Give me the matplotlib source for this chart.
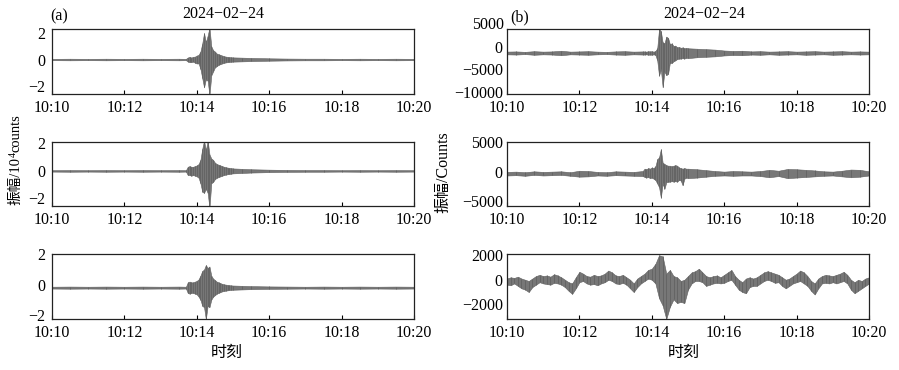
import matplotlib
matplotlib.use("Agg")
import matplotlib.pyplot as plt
from matplotlib.transforms import blended_transform_factory

# time axis in minutes after 10:10
X_TICKS = [0, 2, 4, 6, 8, 10]
X_LABELS = ["10:10", "10:12", "10:14", "10:16", "10:18", "10:20"]
DATE = "2024\u221202\u221224"

# left column: envelope (upper / lower) of each trace, in 10^4 counts
T_LEFT = [0, 0.5, 1.0, 1.5, 2.0, 2.5, 3.0, 3.5, 3.7,
          3.75, 3.8, 3.85, 3.9, 3.95, 4.0, 4.05, 4.1, 4.15, 4.2, 4.25, 4.3, 4.35,
          4.4, 4.45, 4.5, 4.55, 4.6, 4.65, 4.7, 4.75, 4.8, 4.85, 4.9, 4.95, 5.0,
          5.25, 5.5, 6.0, 6.5, 7.0, 7.5, 8.0, 8.5, 9.0, 9.5, 10.0]

a1_hi = [0.05, 0.06, 0.05, 0.06, 0.05, 0.06, 0.05, 0.06, 0.05,
         0.15, 0.2, 0.15, 0.2, 0.22, 0.3, 0.35, 0.6, 1.2, 2.0, 1.3, 1.8, 2.4,
         1.0, 0.7, 0.6, 0.45, 0.4, 0.35, 0.3, 0.25, 0.22, 0.2, 0.18, 0.17, 0.16,
         0.14, 0.12, 0.09, 0.07, 0.06, 0.06, 0.05, 0.06, 0.05, 0.06, 0.05]
a1_lo = [-0.05, -0.06, -0.05, -0.06, -0.05, -0.06, -0.05, -0.06, -0.05,
         -0.15, -0.2, -0.2, -0.15, -0.25, -0.3, -0.3, -0.7, -1.4, -2.1, -1.5, -1.6, -2.7,
         -1.2, -0.9, -0.6, -0.5, -0.4, -0.35, -0.3, -0.25, -0.22, -0.2, -0.18, -0.17, -0.16,
         -0.14, -0.12, -0.09, -0.07, -0.06, -0.06, -0.05, -0.06, -0.05, -0.06, -0.05]

a2_hi = [0.05, 0.06, 0.05, 0.06, 0.05, 0.06, 0.05, 0.06, 0.05,
         0.3, 0.35, 0.3, 0.3, 0.35, 0.4, 0.5, 0.8, 1.6, 2.2, 1.5, 2.2, 1.2,
         0.9, 0.8, 0.6, 0.5, 0.45, 0.4, 0.35, 0.3, 0.27, 0.24, 0.22, 0.2, 0.18,
         0.15, 0.12, 0.09, 0.07, 0.06, 0.06, 0.05, 0.06, 0.05, 0.06, 0.05]
a2_lo = [-0.05, -0.06, -0.05, -0.06, -0.05, -0.06, -0.05, -0.06, -0.05,
         -0.3, -0.3, -0.35, -0.3, -0.35, -0.4, -0.5, -0.9, -1.5, -1.6, -1.3, -1.6, -2.7,
         -0.9, -0.8, -0.6, -0.5, -0.45, -0.4, -0.35, -0.3, -0.27, -0.24, -0.22, -0.2, -0.18,
         -0.15, -0.12, -0.09, -0.07, -0.06, -0.06, -0.05, -0.06, -0.05, -0.06, -0.05]

a3_hi = [-0.14, -0.13, -0.14, -0.13, -0.14, -0.13, -0.14, -0.13, -0.14,
         0.15, 0.2, 0.15, 0.15, 0.2, 0.25, 0.35, 0.6, 0.9, 1.0, 1.3, 1.1, 1.2,
         0.6, 0.4, 0.3, 0.2, 0.15, 0.1, 0.05, 0.02, 0.0, -0.02, -0.04, -0.05, -0.06,
         -0.08, -0.1, -0.12, -0.13, -0.14, -0.13, -0.14, -0.13, -0.14, -0.13, -0.14]
a3_lo = [-0.26, -0.27, -0.26, -0.27, -0.26, -0.27, -0.26, -0.27, -0.26,
         -0.55, -0.6, -0.55, -0.55, -0.6, -0.65, -0.8, -1.0, -1.4, -1.5, -2.3, -1.4, -1.5,
         -1.0, -0.8, -0.7, -0.6, -0.55, -0.5, -0.45, -0.42, -0.4, -0.38, -0.36, -0.35, -0.34,
         -0.32, -0.3, -0.28, -0.27, -0.26, -0.27, -0.26, -0.27, -0.26, -0.27, -0.26]

# right column, counts
T_RIGHT = [0, 0.25, 0.5, 0.75, 1.0, 1.25, 1.5, 1.75, 2.0, 2.25, 2.5, 2.75, 3.0, 3.25, 3.5, 3.75,
           3.8, 3.85, 3.9, 3.95, 4.0, 4.05, 4.1, 4.15, 4.2, 4.25, 4.3, 4.35, 4.4, 4.45,
           4.5, 4.55, 4.6, 4.65, 4.7, 4.75, 4.8, 4.85, 4.9, 4.95, 5.0,
           5.25, 5.5, 5.75, 6.0, 6.25, 6.5, 6.75, 7.0, 7.25, 7.5, 7.75, 8.0, 8.25, 8.5,
           8.75, 9.0, 9.25, 9.5, 9.75, 10.0]

b1_hi = [-1050, -1000, -1100, -950, -1050, -1000, -850, -1050, -1000, -950, -1050, -1100, -1000, -950, -1050, -1000,
         -1000, -1050, -950, -1000, -950, -1050, -900, -300, 4000, 3500, 1000, 800, 2300, 2000,
         600, 800, 200, 300, -100, 0, -200, -100, -300, -200, -300,
         -400, -500, -600, -800, -900, -850, -1000, -950, -1050, -1000, -950, -1050, -1000, -950,
         -1050, -1000, -950, -1050, -1000, -1050]
b1_lo = [-1650, -1700, -1600, -1750, -1650, -1700, -1850, -1650, -1700, -1750, -1650, -1600, -1700, -1750, -1650, -1700,
         -1700, -1650, -1750, -1700, -1750, -1650, -1800, -3000, -6400, -5000, -9000, -5500, -6300, -6000,
         -3500, -3600, -3200, -3000, -2700, -2600, -2600, -2500, -2600, -2400, -2500,
         -2300, -2200, -2100, -1900, -1800, -1850, -1700, -1750, -1650, -1750, -1700, -1650, -1750, -1700,
         -1650, -1750, -1700, -1650, -1700, -1650]

b2_hi = [-50, 0, -100, 50, -50, 0, 50, -100, 150, 100, -50, -100, 50, 0, -50, 100,
         500, 400, 600, 500, 700, 600, 900, 2100, 2400, 3800, 1500, 1300, 1100, 1000,
         1000, 900, 1000, 1100, 1000, 700, 600, 500, 600, 500, 500,
         400, 250, 100, 0, 100, 50, 0, 100, 300, 150, 450, 400, 300, 200,
         50, 0, 150, 350, 300, 50]
b2_lo = [-650, -600, -700, -550, -650, -600, -550, -700, -850, -800, -650, -700, -600, -650, -700, -750,
         -900, -1000, -900, -1100, -1000, -1200, -1400, -2000, -2600, -4400, -2000, -2900, -1800, -1700,
         -1700, -1600, -1700, -1600, -1700, -1400, -1500, -2300, -1200, -1000, -1100,
         -1000, -850, -700, -650, -700, -650, -650, -750, -950, -750, -1100, -1000, -900, -800,
         -700, -650, -800, -950, -850, -650]

T_B3 = [i / 10 for i in range(101)]
b3_hi = [100, 200, 150, 250, 100, 0, -100, 100, 300, 400,
         300, 350, 250, 450, 350, 200, 0, -200, -300, 200,
         650, 500, 300, 250, 400, 300, 350, 500, 750, 600,
         350, 300, 400, 200, 0, -300, 100, 300, 500, 800,
         900, 1300, 2000, 1900, 500, 800, 300, 200, -100, 0,
         300, 600, 700, 900, 600, 300, 200, 300, 350, 200,
         400, 600, 800, 300, 0, -200, 100, 200, 100, 200,
         400, 600, 700, 600, 500, 400, 200, 0, 100, 300,
         500, 750, 600, 300, -100, -300, 100, 300, 400, 350,
         300, 400, 500, 650, 400, 0, -200, 0, -100, 100,
         200]
b3_lo = [-400, -450, -300, -500, -700, -800, -1000, -600, -400, -200,
         -300, -350, -400, -250, -300, -400, -600, -900, -1150, -700,
         -200, -100, -300, -400, -350, -450, -300, -200, 0, -100,
         -300, -350, -250, -400, -700, -1000, -600, -300, -100, 100,
         0, -300, -1500, -2100, -3200, -2200, -1600, -1900, -1800, -1900,
         -800, -300, -100, -100, -200, -500, -400, -300, -250, -300,
         -250, -100, 0, -400, -800, -1000, -1100, -600, -500, -500,
         -300, -100, 0, -100, -250, -200, -500, -700, -500, -300,
         -200, -100, -300, -500, -900, -1200, -700, -300, -250, -300,
         -200, -300, -200, -100, -300, -800, -1100, -900, -700, -500,
         -300]

FILL = "#777777"
TRACE = "#5e5e5e"
FRAME = "#222222"


def draw_panel(rect, t, hi, lo, ylim, yticks, pad):
    ax = fig.add_axes(rect)
    ax.fill_between(t, lo, hi, facecolor=FILL, edgecolor=TRACE, linewidth=0.4)
    ax.vlines(t, lo, hi, color=TRACE, linewidth=0.5)
    ax.set_xlim(0, 10)
    ax.set_ylim(*ylim)
    ax.set_xticks(X_TICKS)
    ax.set_xticklabels(X_LABELS)
    ax.set_yticks(yticks)
    ax.tick_params(axis="x", direction="in", length=3, width=0.8, labelsize=11.5, pad=4)
    ax.tick_params(axis="y", direction="in", length=0, labelsize=11.5, pad=pad)
    for sp in ax.spines.values():
        sp.set_color(FRAME)
        sp.set_linewidth(0.9)
    return ax


fig = plt.figure(figsize=(8.99, 3.70), dpi=100)
plt.rcParams["font.family"] = ["Liberation Serif", "Noto Sans CJK SC", "DejaVu Serif"]

W = 362 / 899
rows = [(1 - 94 / 370, 65 / 370), (1 - 206 / 370, 64 / 370), (1 - 319 / 370, 65 / 370)]
xl, xr = 52 / 899, 507 / 899

draw_panel([xl, rows[0][0], W, rows[0][1]], T_LEFT, a1_hi, a1_lo, (-2.6, 2.3), [-2, 0, 2], 5)
draw_panel([xl, rows[1][0], W, rows[1][1]], T_LEFT, a2_hi, a2_lo, (-2.55, 2.1), [-2, 0, 2], 5)
draw_panel([xl, rows[2][0], W, rows[2][1]], T_LEFT, a3_hi, a3_lo, (-2.28, 2.03), [-2, 0, 2], 5)

ax_b1 = draw_panel([xr, rows[0][0], W, rows[0][1]], T_RIGHT, b1_hi, b1_lo, (-10500, 4000), [-10000, -5000, 0], 3)
tr = blended_transform_factory(ax_b1.transAxes, ax_b1.transData)
ax_b1.text(-0.008, 5000, "5000", transform=tr, ha="right", va="center", fontsize=11.5, clip_on=False)
draw_panel([xr, rows[1][0], W, rows[1][1]], T_RIGHT, b2_hi, b2_lo, (-5800, 4700), [-5000, 0, 5000], 3)
draw_panel([xr, rows[2][0], W, rows[2][1]], T_B3, b3_hi, b3_lo, (-3200, 2100), [-2000, 0, 2000], 3)

fig.text(223 / 899, 1 - 14 / 370, DATE, ha="center", va="center", fontsize=11.5)
fig.text(704 / 899, 1 - 14 / 370, DATE, ha="center", va="center", fontsize=11.5)
fig.text(50 / 899, 1 - 16 / 370, "(a)", ha="left", va="center", fontsize=11.5)
fig.text(510 / 899, 1 - 17 / 370, "(b)", ha="left", va="center", fontsize=11.5)

# left y label with a real superscript, built from three rotated pieces
renderer = fig.canvas.get_renderer()
lx = 16
y_px = 205
t1 = fig.text(lx / 899, 1 - y_px / 370, "振幅/10", rotation=90, ha="center", va="bottom", fontsize=10.5)
y_px -= t1.get_window_extent(renderer).height
t2 = fig.text((lx - 3) / 899, 1 - y_px / 370, "4", rotation=90, ha="center", va="bottom", fontsize=7)
y_px -= t2.get_window_extent(renderer).height
fig.text(lx / 899, 1 - y_px / 370, "counts", rotation=90, ha="center", va="bottom", fontsize=10.5)

fig.text(443 / 899, 1 - 172 / 370, "振幅/Counts", rotation=90, ha="center", va="center", fontsize=11.5)
fig.text(227 / 899, 1 - 353 / 370, "时刻", ha="center", va="center", fontsize=11.5)
fig.text(684 / 899, 1 - 353 / 370, "时刻", ha="center", va="center", fontsize=11.5)

fig.savefig("out.png", dpi=100)
